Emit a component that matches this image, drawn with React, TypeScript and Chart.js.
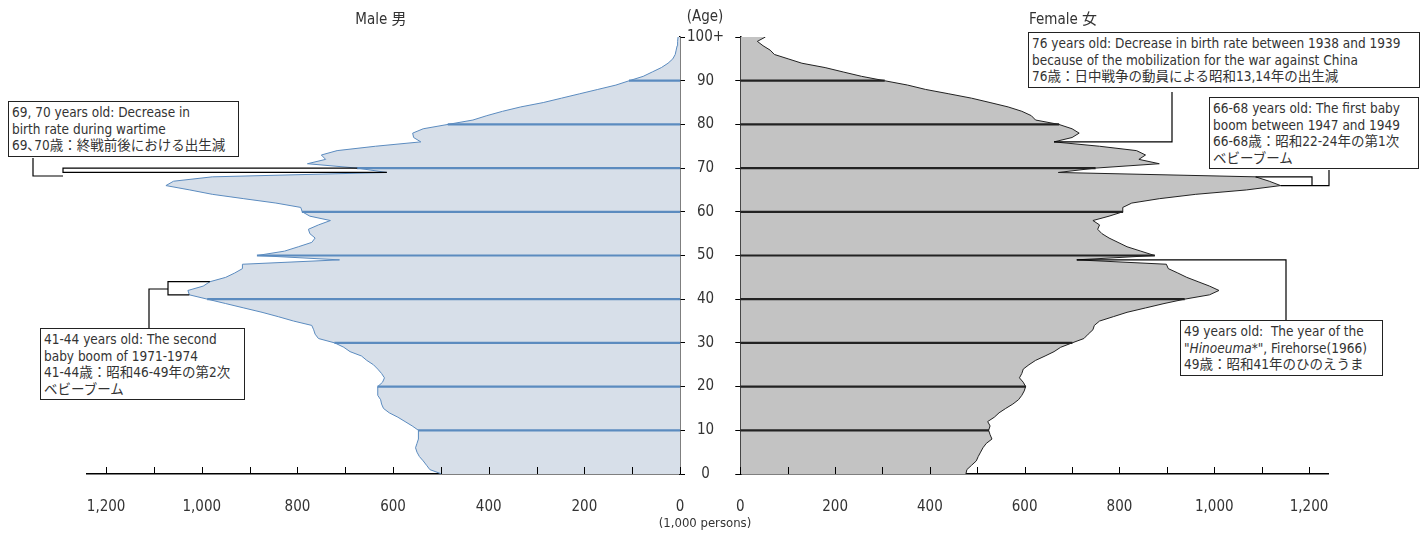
import React, { useEffect, useRef } from "react";
import { Chart, registerables } from "chart.js";
Chart.register(...registerables);

const ages: number[] = Array.from({ length: 101 }, (_, i) => i);
const maleValues: number[] = [
  498, 523, 530, 537, 545, 550, 553, 550, 547, 547, 547, 560, 575, 590, 608, 620, 624, 626, 632, 632,
  632, 622, 618, 624, 632, 641, 655, 666, 690, 703, 722, 756, 763, 766, 770, 808, 840, 874, 912, 950,
  988, 1026, 1029, 997, 983, 950, 931, 915, 915, 712, 884, 827, 798, 770, 763, 774, 777, 756, 731, 774,
  790, 793, 845, 912, 978, 1025, 1075, 1059, 978, 613, 675, 779, 741, 750, 717, 637, 542, 557, 559, 537,
  485, 433, 404, 371, 333, 286, 248, 210, 172, 134, 106, 77, 58, 39, 25, 15, 10, 8, 6, 5, 4,
];
const femaleValues: number[] = [
  476, 478, 488, 498, 502, 507, 512, 519, 531, 527, 524, 527, 522, 536, 546, 560, 575, 587, 594, 599,
  602, 597, 589, 594, 597, 609, 623, 643, 662, 676, 700, 725, 734, 744, 747, 758, 787, 816, 855, 894,
  937, 990, 1010, 990, 966, 942, 923, 903, 899, 710, 874, 845, 816, 797, 778, 763, 754, 758, 744, 778,
  807, 807, 826, 884, 961, 1068, 1140, 1116, 1087, 671, 749, 884, 841, 855, 836, 758, 662, 700, 715, 700,
  672, 623, 614, 594, 565, 527, 488, 440, 391, 353, 304, 256, 217, 179, 130, 101, 72, 63, 48, 36, 53,
];
const decadeAges: number[] = [10, 20, 30, 40, 50, 60, 70, 80, 90];
const xTickValues: number[] = [0, 100, 200, 300, 400, 500, 600, 700, 800, 900, 1000, 1100, 1200];
const ageTickValues: number[] = [0, 10, 20, 30, 40, 50, 60, 70, 80, 90, 100];
const xMax = 1240;

const FONT = "'Liberation Sans Narrow', 'DejaVu Sans Condensed', 'Noto Sans CJK JP', sans-serif";
const TXT = "#333";

type Conn = (c: Chart) => void;

function makeChart(canvas: HTMLCanvasElement, female: boolean, connectors: Conn) {
  const vals = female ? femaleValues : maleValues;
  const lineColor = female ? "#222" : "#5b8bbf";
  const fillColor = female ? "#c3c3c3" : "#d7dfe9";
  const tickPlugin = {
    id: "upTicks",
    afterDraw(c: any) {
      const ctx = c.ctx;
      const xs = c.scales.x;
      const yb = c.chartArea.bottom;
      ctx.save();
      ctx.strokeStyle = "#000";
      ctx.lineWidth = 1;
      xs.ticks.forEach((t: any) => {
        const px = Math.round(xs.getPixelForValue(t.value)) + 0.5;
        ctx.beginPath();
        ctx.moveTo(px, yb);
        ctx.lineTo(px, yb - 7);
        ctx.stroke();
      });
      ctx.restore();
      connectors(c);
    },
  };
  return new Chart(canvas, {
    type: "bar",
    data: {
      datasets: [
        {
          type: "line",
          data: ages.map((a) => ({ x: vals[a], y: a })),
          borderColor: lineColor,
          backgroundColor: fillColor,
          borderWidth: 1,
          pointRadius: 0,
          tension: 0,
          fill: "origin",
          order: 2,
        } as any,
        {
          type: "bar",
          data: decadeAges.map((a) => ({ x: vals[a], y: a })),
          backgroundColor: lineColor,
          barThickness: 1.5,
          order: 1,
        } as any,
      ],
    },
    options: {
      animation: false,
      responsive: false,
      indexAxis: "y",
      layout: { padding: { top: 37, left: female ? 0 : 87, right: female ? 94 : 0, bottom: 0 } },
      plugins: { legend: { display: false }, tooltip: { enabled: false } },
      scales: {
        x: {
          type: "linear",
          reverse: !female,
          min: 0,
          max: xMax,
          grid: { display: false },
          border: { display: true, color: "#000", width: 1.5 },
          afterBuildTicks: (ax: any) => {
            ax.ticks = xTickValues.map((v) => ({ value: v }));
          },
          afterFit: (ax: any) => {
            ax.height = 60;
          },
          ticks: {
            autoSkip: false,
            maxRotation: 0,
            padding: 16,
            color: TXT,
            font: { family: FONT, size: 15 },
            callback: (v: any) => (Number(v) % 200 === 0 ? Number(v).toLocaleString("en-US") : ""),
          },
        },
        y: {
          type: "linear",
          position: female ? "left" : "right",
          min: 0,
          max: 100,
          offset: false,
          grid: { drawOnChartArea: false, drawTicks: true, tickLength: 5, color: "#000", offset: false },
          border: { display: true, color: "#000", width: 1.5 },
          afterBuildTicks: (ax: any) => {
            ax.ticks = ageTickValues.map((v) => ({ value: v }));
          },
          afterFit: (ax: any) => {
            ax.width = female ? 14.5 : 56;
          },
          ticks: {
            display: !female,
            autoSkip: false,
            crossAlign: "center",
            padding: 2,
            color: TXT,
            font: { family: FONT, size: 15 },
            callback: (v: any) => (Number(v) === 100 ? "100+" : String(v)),
          },
        },
      },
    } as any,
    plugins: [tickPlugin],
  });
}

function line(ctx: CanvasRenderingContext2D, pts: number[][]) {
  ctx.beginPath();
  ctx.moveTo(pts[0][0], pts[0][1]);
  for (let i = 1; i < pts.length; i++) ctx.lineTo(pts[i][0], pts[i][1]);
  ctx.stroke();
}

const FEMALE_LEFT = 720;

const maleConnectors: Conn = (c: any) => {
  const ctx = c.ctx;
  const xs = c.scales.x;
  const ys = c.scales.y;
  const P = (a: number) => [xs.getPixelForValue(maleValues[a]), ys.getPixelForValue(a)];
  ctx.save();
  ctx.strokeStyle = "#000";
  ctx.lineWidth = 1.2;
  const p70 = P(70), p69 = P(69);
  line(ctx, [[p70[0], p70[1]], [63, p70[1]], [63, p69[1]], [p69[0], p69[1]]]);
  line(ctx, [[33, 158], [33, 176], [63, 176]]);
  const p44 = P(44), p41 = P(41);
  line(ctx, [[p44[0], p44[1]], [168, p44[1]], [168, p41[1]], [p41[0], p41[1]]]);
  line(ctx, [[149, 328], [149, 289], [168, 289]]);
  ctx.restore();
};

const femaleConnectors: Conn = (c: any) => {
  const ctx = c.ctx;
  const xs = c.scales.x;
  const ys = c.scales.y;
  const P = (a: number) => [xs.getPixelForValue(femaleValues[a]), ys.getPixelForValue(a)];
  const L = FEMALE_LEFT;
  ctx.save();
  ctx.strokeStyle = "#000";
  ctx.lineWidth = 1.2;
  const p76 = P(76);
  line(ctx, [[1172 - L, 92], [1172 - L, p76[1]], [p76[0], p76[1]]]);
  const p68 = P(68), p66 = P(66);
  line(ctx, [[p68[0], p68[1]], [1312 - L, p68[1]], [1312 - L, p66[1]]]);
  line(ctx, [[p66[0], p66[1]], [1329 - L, p66[1]], [1329 - L, 170]]);
  const p49 = P(49);
  line(ctx, [[p49[0], p49[1]], [1286 - L, p49[1]], [1286 - L, 320]]);
  ctx.restore();
};

const boxStyle = (left: number, top: number, width: number): React.CSSProperties => ({
  position: "absolute",
  left,
  top,
  width,
  border: "1.5px solid #222",
  background: "#fff",
  fontFamily: FONT,
  fontSize: 13.5,
  lineHeight: "16.5px",
  color: TXT,
  padding: "2px 3px",
  whiteSpace: "nowrap",
  boxSizing: "border-box",
  zIndex: 2,
});

const textStyle = (left: number, top: number, center = true): React.CSSProperties => ({
  position: "absolute",
  left,
  top,
  transform: center ? "translateX(-50%)" : undefined,
  fontFamily: FONT,
  fontSize: 15,
  color: TXT,
  whiteSpace: "nowrap",
  zIndex: 2,
});

export default function App() {
  const mRef = useRef<HTMLCanvasElement>(null);
  const fRef = useRef<HTMLCanvasElement>(null);
  useEffect(() => {
    const m = makeChart(mRef.current!, false, maleConnectors);
    const f = makeChart(fRef.current!, true, femaleConnectors);
    return () => {
      m.destroy();
      f.destroy();
    };
  }, []);
  return (
    <div style={{ position: "fixed", left: 0, top: 0, width: 1422, height: 534, background: "#fff", overflow: "hidden" }}>
      <canvas ref={mRef} width={736} height={534} style={{ position: "absolute", left: 0, top: 0, width: 736, height: 534 }} />
      <canvas ref={fRef} width={702} height={534} style={{ position: "absolute", left: FEMALE_LEFT, top: 0, width: 702, height: 534 }} />
      <div style={textStyle(381, 7)}>Male 男</div>
      <div style={textStyle(1063, 7)}>Female 女</div>
      <div style={textStyle(705, 7)}>(Age)</div>
      <div style={{ ...textStyle(705, 515), fontSize: 13 }}>(1,000 persons)</div>
      <div style={boxStyle(8, 101, 231)}>
        69, 70 years old: Decrease in<br />birth rate during wartime<br />69､70歳：終戦前後における出生減
      </div>
      <div style={boxStyle(40, 328, 205)}>
        41-44 years old: The second<br />baby boom of 1971-1974<br />41-44歳：昭和46-49年の第2次<br />ベビーブーム
      </div>
      <div style={boxStyle(1028, 32, 392)}>
        76 years old: Decrease in birth rate between 1938 and 1939<br />because of the mobilization for the war against China<br />76歳：日中戦争の動員による昭和13,14年の出生減
      </div>
      <div style={boxStyle(1209, 97, 210)}>
        66-68 years old: The first baby<br />boom between 1947 and 1949<br />66-68歳：昭和22-24年の第1次<br />ベビーブーム
      </div>
      <div style={boxStyle(1180, 320, 203)}>
        49 years old:&nbsp; The year of the<br />"<i>Hinoeuma</i>*", Firehorse(1966)<br />49歳：昭和41年のひのえうま
      </div>
    </div>
  );
}
